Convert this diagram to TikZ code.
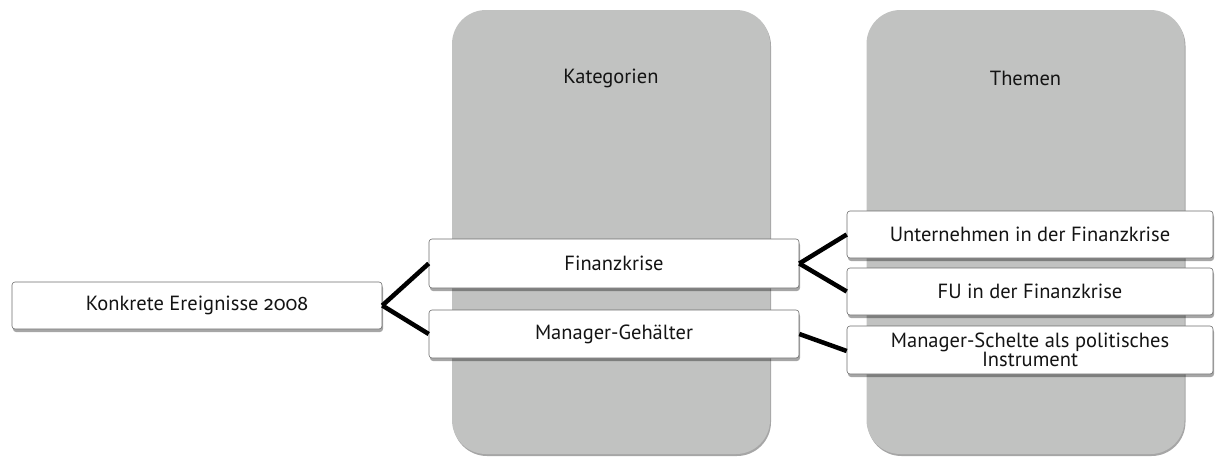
\documentclass[tikz,border=0pt]{standalone}
\usepackage{fontspec}
\setmainfont{PT Sans}
\newfontfamily\oldnum[Numbers=OldStyle]{Fira Sans}
\usetikzlibrary{shadows}
\definecolor{panelgray}{RGB}{193,194,193}
\definecolor{boxline}{RGB}{110,110,110}
\definecolor{txt}{RGB}{20,20,20}
\begin{document}
\begin{tikzpicture}[x=1pt,y=-1pt,
  panel/.style={draw=none,fill=panelgray,rounded corners=34pt,minimum width=318pt,minimum height=444pt,
     drop shadow={shadow xshift=1pt,shadow yshift=-2pt,opacity=0.35,fill=black}},
  itembox/.style={draw=boxline,line width=0.6pt,fill=white,rounded corners=3pt,minimum width=368pt,
     minimum height=47pt,inner sep=0pt,text=txt,font=\fontsize{20.5}{19}\selectfont,align=center,
     drop shadow={shadow xshift=1pt,shadow yshift=-3pt,opacity=0.35,fill=black}},
  title/.style={text=txt,font=\fontsize{20.5}{19}\selectfont},
  link/.style={line width=4.5pt,black}]
\useasboundingbox (0,0) rectangle (1217,463);
\node[panel] (p1) at (611,232) {};
\node[panel] (p2) at (1025.5,232) {};
\node[title] (t1) at (611,78) {Kategorien};
\node[title] (t2) at (1025.5,78) {Themen};
\node[itembox,minimum width=370pt] (k) at (197,305.5) {Konkrete Ereignisse {\oldnum\fontsize{19.5}{19}\selectfont 2008}};
\node[itembox,minimum width=370pt,minimum height=49pt] (f) at (614,263.5) {Finanzkrise};
\node[itembox,minimum width=370pt,minimum height=48pt] (m) at (614,334) {Manager-Gehälter};
\node[itembox,minimum width=366pt] (u) at (1030,234.5) {Unternehmen in der Finanzkrise};
\node[itembox,minimum width=366pt] (fu) at (1030,291.5) {FU in der Finanzkrise};
\node[itembox,minimum width=366pt,minimum height=48pt] (s) at (1030,350) {Manager-Schelte als politisches\\Instrument};
\draw[link] (k.east) -- (f.west);
\draw[link] (k.east) -- (m.west);
\draw[link] (f.east) -- (u.west);
\draw[link] (f.east) -- (fu.west);
\draw[link] (m.east) -- ([yshift=-1pt]s.west);
\end{tikzpicture}
\end{document}
